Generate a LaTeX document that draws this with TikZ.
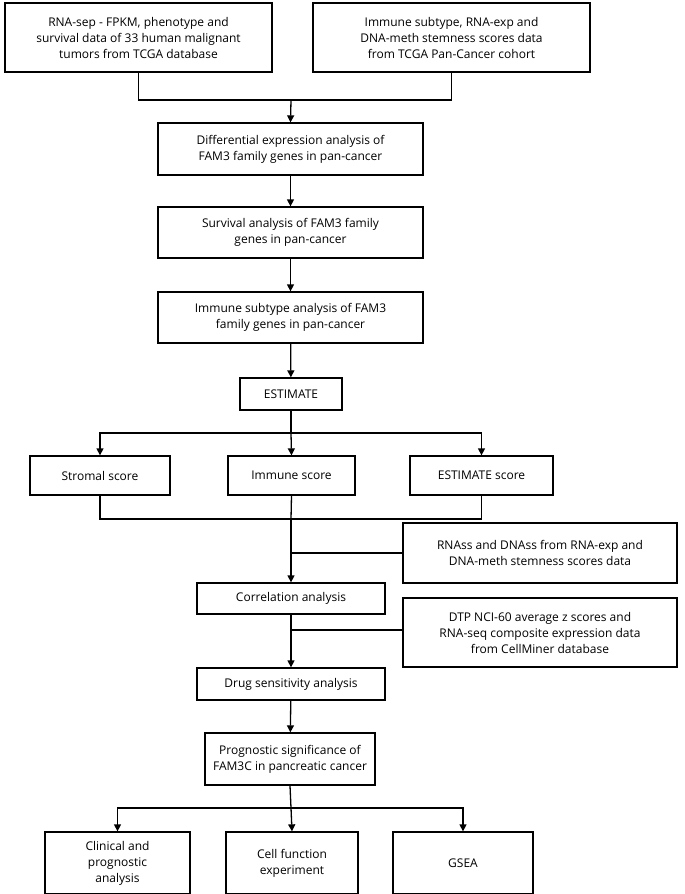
\documentclass[tikz,border=0pt]{standalone}
\usepackage{fontspec}
\setmainfont{Open Sans}
\usetikzlibrary{arrows.meta}
\tikzset{
  box/.style={draw, line width=1.3pt, align=center, inner sep=2pt, font=\fontsize{12}{16}\selectfont},
  link/.style={line width=1.3pt},
  arr/.style={line width=1.3pt, -{Triangle[length=7pt,width=7pt]}}
}
\newcommand{\bx}[6]{\node[box, minimum width=#4-#2, minimum height=#5-#3] (#1) at ({(#2+#4)/2},{(#3+#5)/2}) {#6};}
\begin{document}
\begin{tikzpicture}[x=1pt,y=-1pt]
\useasboundingbox (0,0) rectangle (685,894);
\bx{tcga}{5}{3}{272}{72}{RNA-sep - FPKM, phenotype and\\survival data of 33 human malignant\\tumors from TCGA database}
\bx{pan}{313}{3}{590}{72}{Immune subtype, RNA-exp and\\DNA-meth stemness scores data\\from TCGA Pan-Cancer cohort}
\bx{diff}{158}{123}{423}{175}{Differential expression analysis of\\FAM3 family genes in pan-cancer}
\bx{surv}{158}{207}{423}{258}{Survival analysis of FAM3 family\\genes in pan-cancer}
\bx{immsub}{158}{292}{423}{343}{Immune subtype analysis of FAM3\\family genes in pan-cancer}
\bx{est}{240}{378}{342}{410}{ESTIMATE}
\bx{strom}{30}{456}{170}{495}{Stromal score}
\bx{imm}{228}{456}{355}{495}{Immune score}
\bx{estsc}{410}{456}{553}{495}{ESTIMATE score}
\bx{rnass}{403}{523}{677}{583}{RNAss and DNAss from RNA-exp and\\DNA-meth stemness scores data}
\bx{corr}{197}{583}{385}{614}{Correlation analysis}
\bx{dtp}{403}{598}{677}{667}{DTP NCI-60 average z scores and\\RNA-seq composite expression data\\from CellMiner database}
\bx{drug}{197}{668}{385}{700}{Drug sensitivity analysis}
\bx{prog}{205}{733}{375}{785}{Prognostic significance of\\FAM3C in pancreatic cancer}
\bx{clin}{45}{832}{190}{894}{Clinical and\\prognostic\\analysis}
\bx{cell}{226}{832}{358}{894}{Cell function\\experiment}
\bx{gsea}{393}{832}{533}{894}{GSEA}
% top merge
\coordinate (m1) at (291,100);
\draw[link] (tcga.south) -- (tcga.south|-m1) -- (pan.south|-m1) -- (pan.south);
\draw[arr] (m1) -- (diff.north);
\draw[arr] (diff) -- (surv);
\draw[arr] (surv) -- (immsub);
\draw[arr] (immsub) -- (est);
% estimate branch
\coordinate (b1) at (291,433);
\draw[link] (est.south) -- (b1);
\draw[arr] (b1) -| (strom.north);
\draw[arr] (b1) -| (estsc.north);
\draw[arr] (b1) -- (imm.north);
% merge scores
\coordinate (m2) at (291,519);
\draw[link] (strom.south) |- (m2) -| (estsc.south);
\draw[link] (imm.south) -- (m2);
\draw[arr] (m2) -- (corr.north);
\draw[link] (291,553) -- (rnass.west|-0,553);
\draw[arr] (corr) -- (drug);
\draw[link] (291,630) -- (dtp.west|-0,630);
\draw[arr] (drug) -- (prog);
% bottom branch
\coordinate (b2) at (291,808);
\draw[link] (prog.south) -- (b2);
\draw[arr] (b2) -| (clin.north);
\draw[arr] (b2) -| (gsea.north);
\draw[arr] (b2) -- (cell.north);
\end{tikzpicture}
\end{document}
